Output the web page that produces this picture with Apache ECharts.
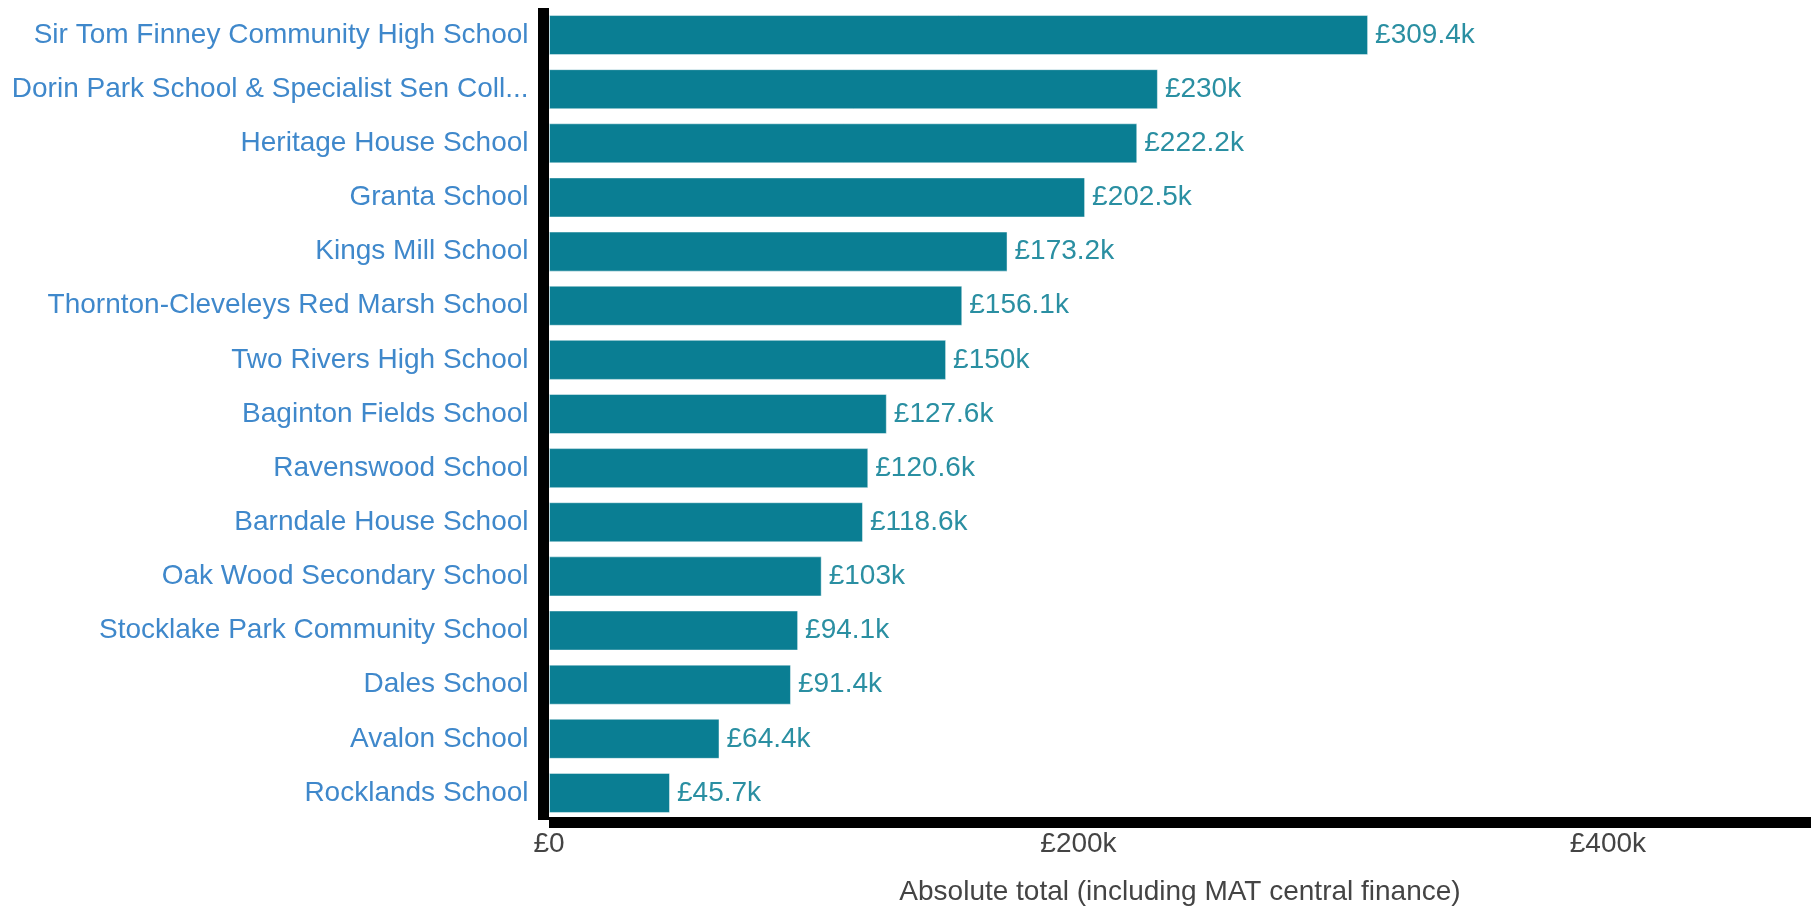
<!DOCTYPE html>
<html>
<head>
<meta charset="utf-8">
<script src="https://cdn.jsdelivr.net/npm/echarts@6/dist/echarts.min.js"></script>
<style>
  html, body { margin: 0; padding: 0; background: #ffffff; }
  #chart { width: 1811px; height: 915px; }
</style>
</head>
<body>
<div id="chart"></div>
<script>
const schools = [
  "Sir Tom Finney Community High School",
  "Dorin Park School & Specialist Sen Coll...",
  "Heritage House School",
  "Granta School",
  "Kings Mill School",
  "Thornton-Cleveleys Red Marsh School",
  "Two Rivers High School",
  "Baginton Fields School",
  "Ravenswood School",
  "Barndale House School",
  "Oak Wood Secondary School",
  "Stocklake Park Community School",
  "Dales School",
  "Avalon School",
  "Rocklands School"
];
const totals = [309400, 230000, 222200, 202500, 173200, 156100, 150000, 127600, 120600, 118600, 103000, 94100, 91400, 64400, 45700];
const xTicks = [0, 200000, 400000];
const xTitle = "Absolute total (including MAT central finance)";

function fmtK(v) {
  if (v === 0) return "£0";
  const k = Math.round(v / 100) / 10;
  return "£" + k + "k";
}

const FONT = "'Liberation Sans', Arial, sans-serif";
const FS = 28;
const chart = echarts.init(document.getElementById('chart'), null, { renderer: 'canvas' });
chart.setOption({
  animation: false,
  backgroundColor: '#ffffff',
  textStyle: { fontFamily: FONT },
  grid: { left: 549, right: 0, top: 8, bottom: 95, containLabel: false },
  xAxis: {
    type: 'value',
    min: 0,
    max: 476700,
    interval: 200000,
    offset: 2.5,
    name: xTitle,
    nameLocation: 'middle',
    nameGap: 56,
    nameTextStyle: { fontSize: FS, color: '#444', fontFamily: FONT },
    axisLine: { show: true, onZero: false, lineStyle: { color: '#000', width: 11, cap: 'butt' } },
    axisTick: { show: false },
    splitLine: { show: false },
    axisLabel: {
      fontSize: FS,
      color: '#444',
      fontFamily: FONT,
      margin: 8,
      showMaxLabel: false,
      formatter: function (v) { return xTicks.indexOf(v) >= 0 ? fmtK(v) : ''; }
    }
  },
  yAxis: {
    type: 'category',
    data: schools,
    inverse: true,
    offset: 5.5,
    axisLine: { show: true, onZero: false, lineStyle: { color: '#000', width: 11, cap: 'butt' } },
    axisTick: { show: false },
    splitLine: { show: false },
    axisLabel: {
      fontSize: FS,
      color: '#3f88cb',
      fontFamily: FONT,
      margin: 15
    }
  },
  series: [{
    type: 'bar',
    data: totals,
    barCategoryGap: '26%',
    itemStyle: { color: '#0a7e93', borderColor: 'rgba(255,255,255,0.45)', borderWidth: 1 },
    label: {
      show: true,
      position: 'right',
      distance: 7,
      fontSize: FS,
      color: '#2a8fa2',
      fontFamily: FONT,
      formatter: function (p) { return fmtK(p.value); }
    }
  }]
});
</script>
</body>
</html>
